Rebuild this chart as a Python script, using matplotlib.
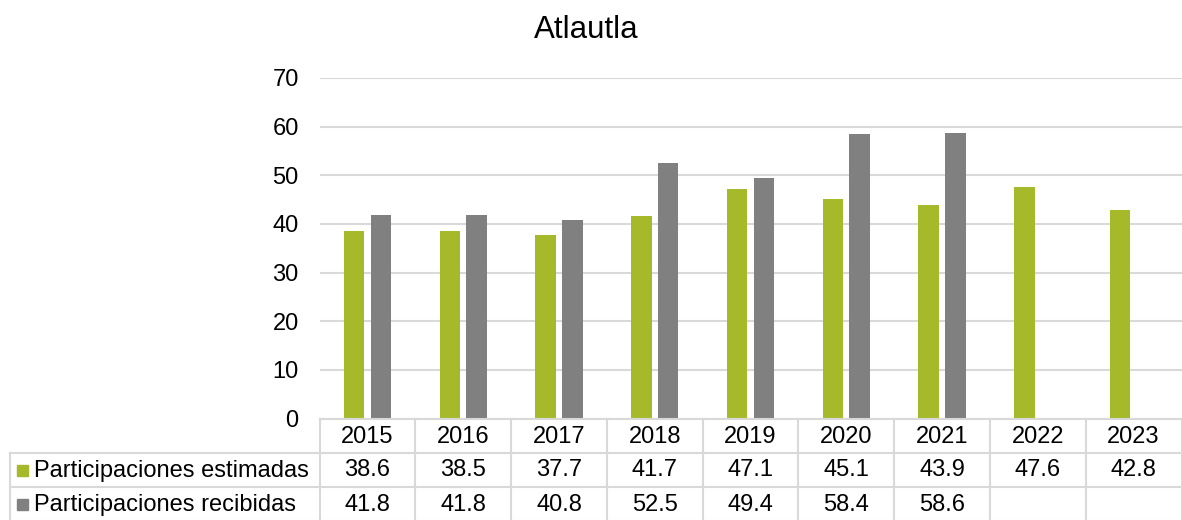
import matplotlib
matplotlib.use("Agg")
import matplotlib.pyplot as plt
import matplotlib.transforms as mtransforms
from matplotlib.lines import Line2D
from matplotlib.patches import Rectangle
import numpy as np

plt.rcParams['font.family'] = ['Liberation Sans', 'DejaVu Sans']

title = "Atlautla"
years = ["2015", "2016", "2017", "2018", "2019", "2020", "2021", "2022", "2023"]
series_names = ["Participaciones estimadas", "Participaciones recibidas"]
estimadas = [38.6, 38.5, 37.7, 41.7, 47.1, 45.1, 43.9, 47.6, 42.8]
recibidas = [41.8, 41.8, 40.8, 52.5, 49.4, 58.4, 58.6, None, None]
yticks = [0, 10, 20, 30, 40, 50, 60, 70]

green = "#A5B92A"
gray = "#808080"
grid_c = "#D9D9D9"

W, H = 1182, 520
fig = plt.figure(figsize=(W / 100, H / 100), dpi=100)
ax_l, ax_r, ax_t, ax_b = 319.5, 1181.5, 78, 418.5
ax = fig.add_axes([ax_l / W, 1 - ax_b / H, (ax_r - ax_l) / W, (ax_b - ax_t) / H])

x = np.arange(len(years))
bw = 0.214
off = 0.14
ax.bar(x - off, estimadas, width=bw, color=green, zorder=3)
rx = [xi for xi, v in zip(x, recibidas) if v is not None]
rv = [v for v in recibidas if v is not None]
ax.bar(np.array(rx) + off, rv, width=bw, color=gray, zorder=3)

ax.set_xlim(-0.5, len(years) - 0.5)
ax.set_ylim(0, 70)
ax.set_yticks(yticks)
ax.set_yticklabels([str(t) for t in yticks], fontsize=17)
ax.tick_params(axis='y', length=0, pad=15)
ax.tick_params(axis='x', length=0, labelbottom=False)
ax.grid(axis='y', color=grid_c, linewidth=1.5, zorder=0)
for s in ax.spines.values():
    s.set_visible(False)

fig.text(586 / W, 1 - 30 / H, title, ha='center', va='center', fontsize=22.5)

# overlay in pixel coordinates
ov = fig.add_axes([0, 0, 1, 1], facecolor='none')
ov.set_xlim(0, W)
ov.set_ylim(H, 0)
ov.axis('off')
tr = mtransforms.blended_transform_factory(ax.transData, ov.transData)

row_tops = [419, 452.5, 486.5, 521]
lw = 1.5
for y in row_tops:
    ov.add_line(Line2D([-0.5, len(years) - 0.5], [y, y], transform=tr, color=grid_c, lw=lw, clip_on=False))
for y in row_tops[1:]:
    ov.add_line(Line2D([10, ax_l], [y, y], color=grid_c, lw=lw, clip_on=False))
for i in range(len(years) + 1):
    ov.add_line(Line2D([i - 0.5, i - 0.5], [row_tops[0], row_tops[-1]], transform=tr, color=grid_c, lw=lw, clip_on=False))
ov.add_line(Line2D([10, 10], [row_tops[1], row_tops[-1]], color=grid_c, lw=lw, clip_on=False))

for i, yr in enumerate(years):
    ov.text(i, (row_tops[0] + row_tops[1]) / 2 + 1, yr, transform=tr, ha='center', va='center', fontsize=17)

rows = [estimadas, recibidas]
colors = [green, gray]
for r, (vals, name, c) in enumerate(zip(rows, series_names, colors)):
    yc = (row_tops[r + 1] + row_tops[r + 2]) / 2 + 1
    ov.add_patch(Rectangle((17, yc - 5.5), 11, 11, color=c))
    ov.text(34, yc, name, ha='left', va='center', fontsize=17)
    for i, v in enumerate(vals):
        if v is not None:
            ov.text(i, yc, f"{v:.1f}", transform=tr, ha='center', va='center', fontsize=17)

fig.savefig("out.png", dpi=100)
